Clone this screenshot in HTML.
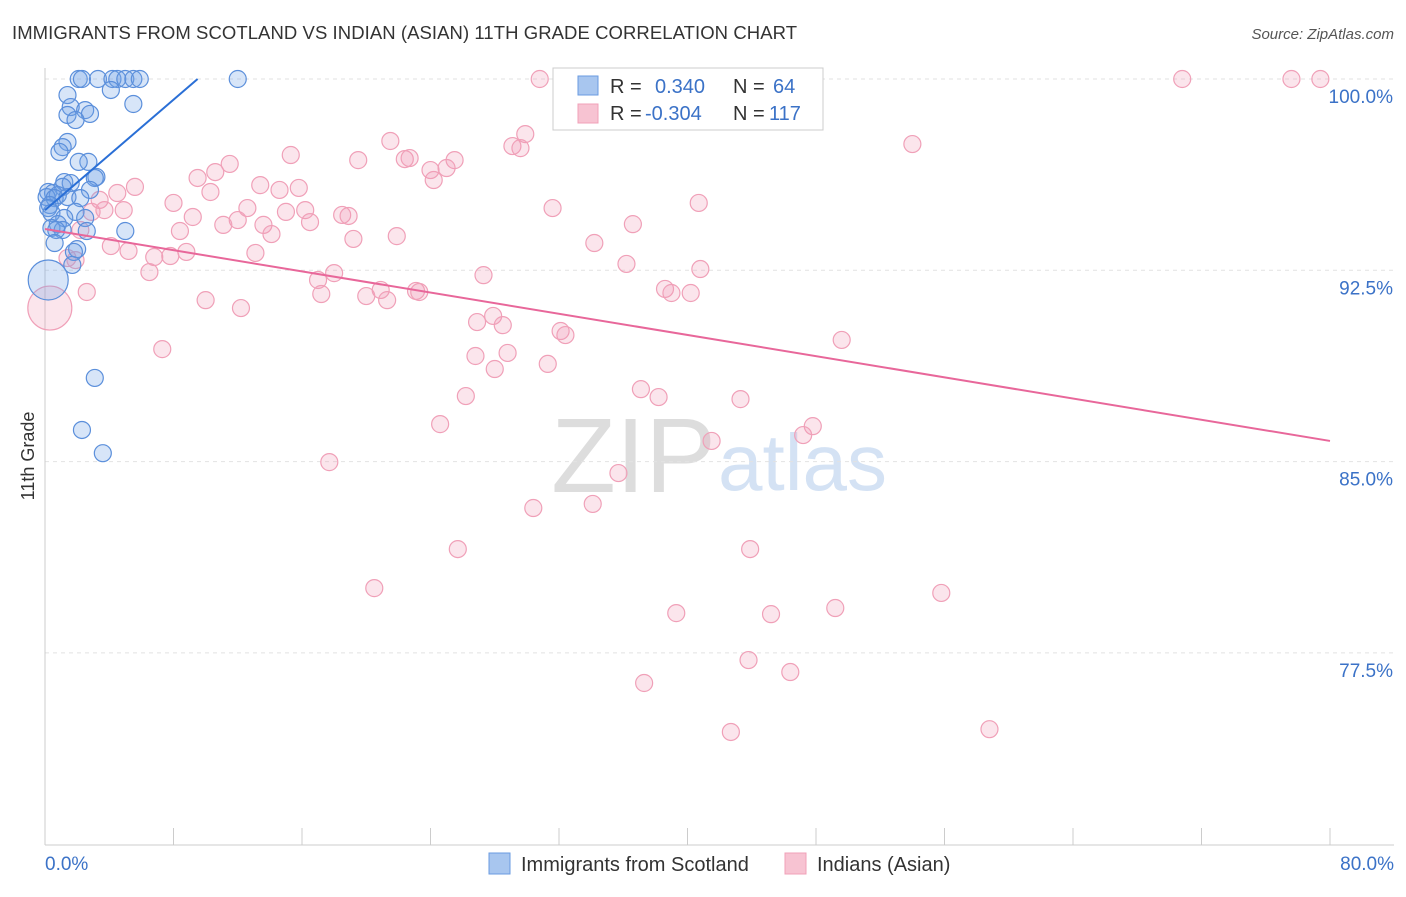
<!DOCTYPE html>
<html><head><meta charset="utf-8"><style>
body{margin:0;background:#fff;font-family:"Liberation Sans",sans-serif;}
svg text{font-family:"Liberation Sans",sans-serif;}
</style></head><body>
<svg id="chart" width="1406" height="892">
<text x="12" y="39" font-size="18.5" fill="#333" textLength="785">IMMIGRANTS FROM SCOTLAND VS INDIAN (ASIAN) 11TH GRADE CORRELATION CHART</text>
<text x="1394" y="39" font-size="15" fill="#555" text-anchor="end" font-style="italic">Source: ZipAtlas.com</text>
<text x="34" y="456" font-size="18" fill="#333" transform="rotate(-90 34 456)" text-anchor="middle">11th Grade</text>
<text x="716" y="492" font-size="106" fill="#ddd" text-anchor="end" font-family="Liberation Serif">ZIP</text>
<text x="718" y="490" font-size="80" fill="#d4e2f4">atlas</text>
<g id="grid"></g><g id="pts"></g><g id="lines"></g>
<g>
<rect x="553" y="68" width="270" height="62" fill="#fff" stroke="#ccc"/>
<rect x="578" y="76" width="20" height="19" fill="#a8c6ef" stroke="#6a9be0"/>
<rect x="578" y="104" width="20" height="19" fill="#f7c3d2" stroke="#f0a0b8"/>
<text x="610" y="93" font-size="20" fill="#333">R = <tspan x="655" fill="#3b72c7">0.340</tspan><tspan x="733">N =</tspan><tspan x="773" fill="#3b72c7">64</tspan></text>
<text x="610" y="120" font-size="20" fill="#333">R = <tspan x="645" fill="#3b72c7">-0.304</tspan><tspan x="733">N =</tspan><tspan x="769" fill="#3b72c7">117</tspan></text>
</g>
<g>
<rect x="489" y="853" width="21" height="21" fill="#a8c6ef" stroke="#6a9be0"/>
<text x="521" y="871" font-size="20" fill="#333">Immigrants from Scotland</text>
<rect x="785" y="853" width="21" height="21" fill="#f7c3d2" stroke="#f0a0b8"/>
<text x="817" y="871" font-size="20" fill="#333">Indians (Asian)</text>
</g>
<text x="45" y="870" font-size="19" fill="#3b72c7">0.0%</text>
<text x="1394" y="870" font-size="19" fill="#3b72c7" text-anchor="end">80.0%</text>
</svg>
<script>
const yTicks=[100,92.5,85,77.5];
const yTickLabels=["100.0%","92.5%","85.0%","77.5%"];
const blueX=[2.1,2.3,3.3,4.2,4.5,5.0,5.5,5.9,12.0,4.1,5.5,1.4,1.6,2.5,2.8,1.4,1.9,1.4,1.1,0.9,2.7,2.1,3.2,3.1,1.2,1.6,1.1,2.8,0.2,0.5,0.8,0.1,0.6,1.4,2.2,0.3,0.2,1.9,0.4,2.5,1.2,0.8,0.4,1.1,0.7,2.6,5.0,0.6,2.0,1.8,1.7,3.1,2.3,3.6,0.2];
const blueY=[100,100,100,100,100,100,100,100,100,99.57,99.02,99.37,98.9,98.78,98.63,98.59,98.39,97.53,97.33,97.14,96.75,96.75,96.16,96.12,95.96,95.92,95.77,95.65,95.57,95.53,95.45,95.37,95.33,95.37,95.33,95.06,94.94,94.79,94.75,94.55,94.55,94.31,94.16,94.08,94.08,94.04,94.04,93.57,93.33,93.22,92.71,88.28,86.24,85.33,92.12];
const pinkX=[30.8,70.8,77.6,79.4,46.8,54.0,21.5,29.9,15.3,19.5,22.4,22.7,25.5,24.0,25.0,24.2,29.1,29.6,11.5,10.6,9.5,5.6,4.5,13.4,14.6,15.8,10.3,8.0,3.4,4.9,2.9,3.7,12.6,15.0,16.2,18.5,18.9,31.6,40.7,9.2,12.0,11.1,13.6,14.1,16.5,8.4,2.2,19.2,21.9,34.2,36.6,4.1,5.2,8.8,6.8,7.8,13.1,1.4,1.9,36.2,40.8,6.5,18.0,27.3,17.0,20.9,20.0,21.3,23.1,23.3,2.6,10.0,12.2,17.2,38.6,39.0,40.2,26.9,27.9,28.5,32.1,32.4,49.6,7.3,26.8,28.8,28.0,31.3,37.1,38.2,43.3,26.2,24.6,47.8,47.2,41.5,17.7,35.7,30.4,34.1,25.7,43.9,20.5,39.3,45.2,49.2,55.8,43.8,46.4,37.3,42.7,58.8,0.3];
const pinkY=[100,100,100,100,100,97.45,97.57,97.84,97.02,96.82,96.86,96.9,96.82,96.43,96.51,96.04,97.37,97.29,96.67,96.35,96.12,95.77,95.53,95.84,95.65,95.73,95.57,95.14,95.26,94.86,94.79,94.86,94.94,94.79,94.86,94.67,94.63,94.94,95.14,94.59,94.47,94.28,94.28,93.92,94.39,94.04,94.08,93.73,93.84,93.57,94.31,93.45,93.26,93.22,93.02,93.06,93.18,92.98,92.9,92.75,92.55,92.43,92.39,92.31,92.12,91.73,91.49,91.33,91.69,91.65,91.65,91.33,91.02,91.57,91.77,91.61,91.61,90.47,90.71,90.35,90.12,89.96,89.77,89.41,89.14,89.26,88.63,88.83,87.84,87.53,87.45,87.57,86.47,86.39,86.04,85.81,84.98,84.55,83.18,83.34,81.57,81.57,80.04,79.06,79.02,79.26,79.85,77.22,76.75,76.32,74.4,74.51,91.02];
const blueTrendX=[0,9.5];const blueTrendY=[94.86,100];
const pinkTrendX=[0,80];const pinkTrendY=[94.12,85.81];
const NS="http://www.w3.org/2000/svg";
const X=v=>45+v/80*1285;
const Y=v=>79+(100-v)/7.5*191.3;
function mk(t,a,p){const e=document.createElementNS(NS,t);for(const k in a)e.setAttribute(k,a[k]);p.appendChild(e);return e;}
const grid=document.getElementById('grid');
yTicks.forEach((t,i)=>{
 const l=mk('line',{x1:45,x2:1394,y1:Y(t),y2:Y(t),stroke:'#e2e2e2','stroke-dasharray':'4,4'},grid);
 
 
 const tx=mk('text',{x:1393,y:Y(t)+24,'font-size':19,fill:'#3b72c7','text-anchor':'end'},grid);
 tx.textContent=yTickLabels[i];
 
 
});
const ax=mk('line',{x1:45,x2:45,y1:68,y2:845,stroke:'#ccc'},grid);


const bx=mk('line',{x1:45,x2:1394,y1:845,y2:845,stroke:'#ccc'},grid);


for(let i=0;i<=10;i++){const t=mk('line',{x1:X(i*8),x2:X(i*8),y1:828,y2:845,stroke:'#ccc'},grid);
 
 }
const pts=document.getElementById('pts');
pinkX.forEach((x,i)=>{const big=i===pinkX.length-1;
 const c=mk('circle',{cx:X(x),cy:Y(pinkY[i]),r:big?22:8.5,fill:'rgba(240,150,180,0.25)',stroke:'#f0a0b8','stroke-width':1.2},pts);
 
 });
blueX.forEach((x,i)=>{const big=i===blueX.length-1;
 const c=mk('circle',{cx:X(x),cy:Y(blueY[i]),r:big?20:8.5,fill:'rgba(110,160,230,0.28)',stroke:'#5b8fdb','stroke-width':1.2},pts);
 
 });
const lines=document.getElementById('lines');
const bl=mk('line',{x1:X(blueTrendX[0]),y1:Y(blueTrendY[0]),x2:X(blueTrendX[1]),y2:Y(blueTrendY[1]),stroke:'#2a6fd6','stroke-width':2},lines);


const pl=mk('line',{x1:X(pinkTrendX[0]),y1:Y(pinkTrendY[0]),x2:X(pinkTrendX[1]),y2:Y(pinkTrendY[1]),stroke:'#e8679a','stroke-width':2},lines);


</script>
</body></html>
